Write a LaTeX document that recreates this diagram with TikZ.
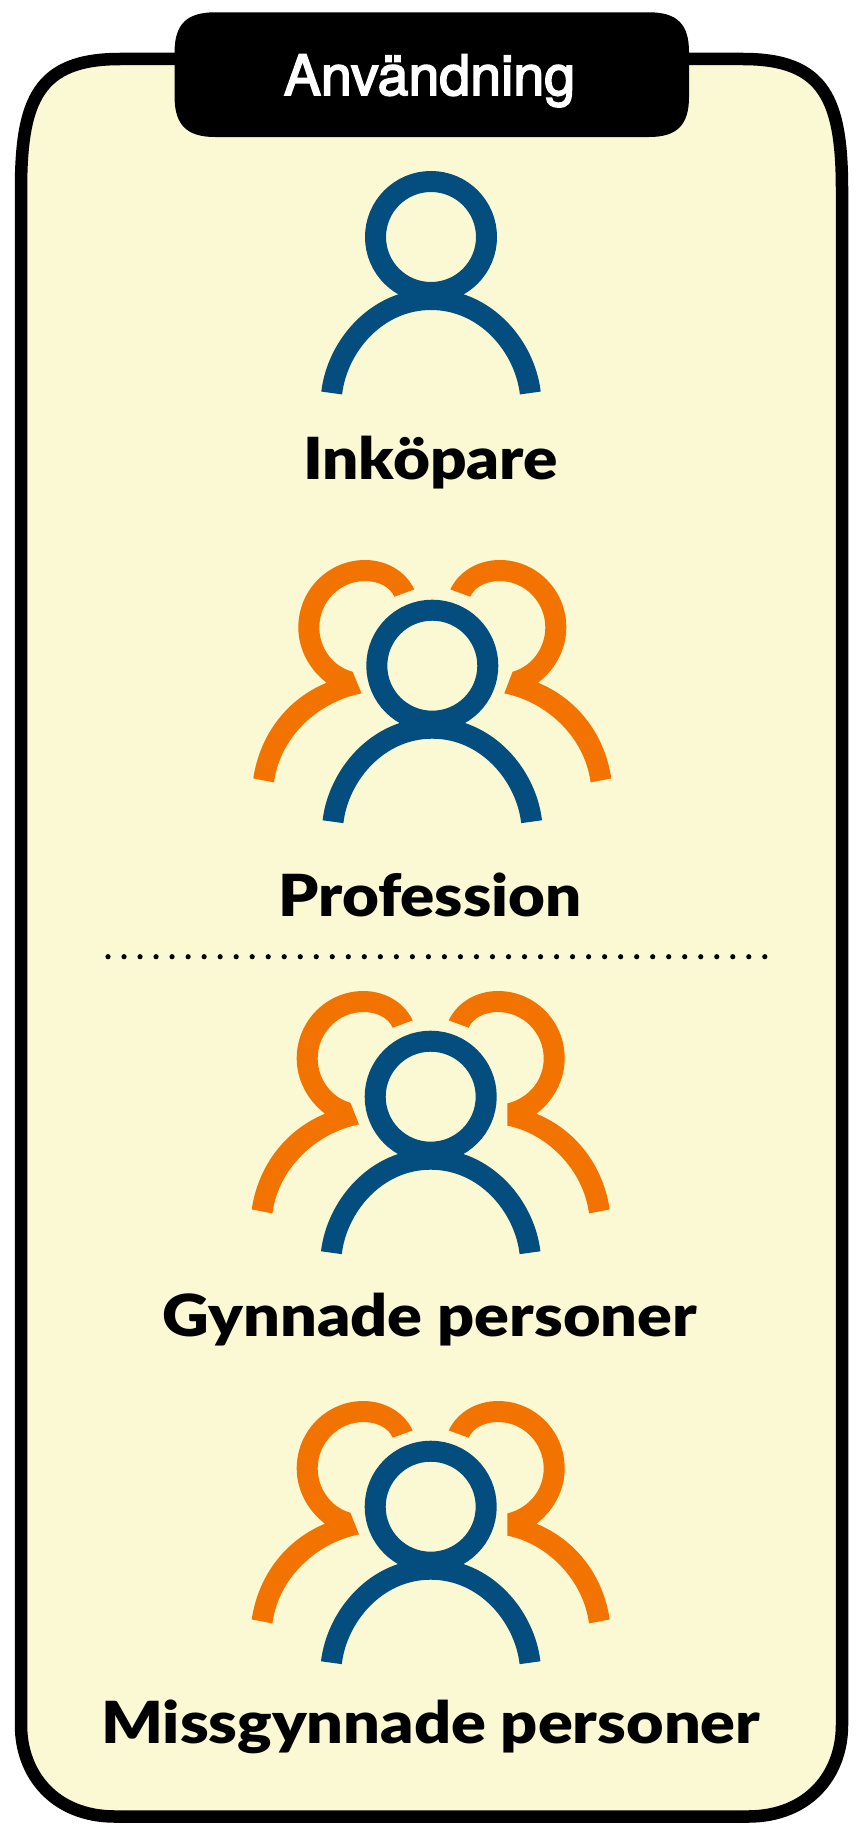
\documentclass[tikz,border=0pt]{standalone}
\usepackage{fontspec}
\newfontfamily\lblfont{Lato Black}
\newfontfamily\ttlfont[FakeBold=3]{TeX Gyre Heros}
\definecolor{paper}{HTML}{FAF9D3}
\definecolor{personblue}{HTML}{034E7E}
\definecolor{personorange}{HTML}{F37300}
\tikzset{
  frameline/.style={draw=black,line width=12.5pt,fill=paper},
  tabshape/.style={fill=black},
  lbl/.style={anchor=base,inner sep=0pt,text=black,font=\lblfont\fontsize{58}{58}\selectfont,xscale=#1,transform shape},
  ttl/.style={anchor=base,inner sep=0pt,text=white,font=\ttlfont\fontsize{55.5}{55.5}\selectfont},
  dotline/.style={line width=5.2pt,line cap=round,dash pattern=on 0pt off 16.02pt,draw=black},
  bluestroke/.style={draw=personblue,line width=21pt},
}
\newcommand{\OrangeSide}[2]{%
  \fill[personorange] (-18,-76.3) .. controls (-27.3,-95.7) and (-47.3,-105.7) .. (-67.3,-105.7)
    .. controls (-104,-105.7) and (-134,-75.7) .. (-134,-38.3)
    .. controls (-134,-15.7) and (-122.3,4.3) .. (-105.7,17)
    .. controls (-144,32.7) and (-172.3,67.7) .. (-179,112.7)
    -- (-158.3,116.7)
    .. controls (-152.3,71) and (-114,36) .. (#2)
    -- (#1)
    .. controls (-99,1) and (-113,-17.3) .. (-113,-38.3)
    .. controls (-113,-64) and (-92.3,-84.7) .. (-67.3,-84.7)
    .. controls (-54,-84.7) and (-42.3,-79) .. (-38,-69) -- cycle;}
\newcommand{\BlueMan}{%
  \draw[bluestroke] (0,0) circle[radius=55.5];
  \draw[bluestroke] (-99.3,156) .. controls (-94,110) and (-55,62.5) .. (0,62.5)
     .. controls (55,62.5) and (94,110) .. (99.3,156);}
\begin{document}
\begin{tikzpicture}[x=1pt,y=-1pt]
\useasboundingbox (0,0) rectangle (866,1828);
\fill[white] (0,0) rectangle (866,1828);
\path[frameline] (21,190) .. controls (21,100) and (38,59) .. (120,59)
  -- (743,59) .. controls (825,59) and (842,100) .. (842,190)
  -- (842,1725) .. controls (842,1775) and (808,1816.5) .. (748,1816.5)
  -- (115,1816.5) .. controls (55,1816.5) and (21,1775) .. (21,1725) -- cycle;
\fill[tabshape] (174.6,52) .. controls (174.6,24) and (187,12.3) .. (215,12.3)
  -- (649,12.3) .. controls (677,12.3) and (689,24) .. (689,52)
  -- (689,97) .. controls (689,125) and (677,137) .. (649,137)
  -- (215,137) .. controls (187,137) and (174.6,125) .. (174.6,97) -- cycle;
\node[ttl] (title) at (429.5,95) {Användning};
\begin{scope}[shift={(431,237)}]\BlueMan\end{scope}
\node[lbl=1.10] (inkopare) at (430.5,479) {Inköpare};
\begin{scope}[shift={(432.3,665.7)}]
  \OrangeSide{-79.7,6}{-70.7,27.7}
  \begin{scope}[xscale=-1]\OrangeSide{-80.3,6}{-72,27.7}\end{scope}
  \BlueMan
\end{scope}
\node[lbl=1.095] (profession) at (430,916.7) {Profession};
\coordinate (dotsL) at (108,956.7);
\coordinate (dotsR) at (766,956.7);
\draw[dotline] (dotsL) -- (dotsR);
\begin{scope}[shift={(430.7,1096.7)}]
  \OrangeSide{-80.3,6}{-71.7,27.7}
  \begin{scope}[xscale=-1]\OrangeSide{-76.7,6.7}{-76.7,29}\end{scope}
  \BlueMan
\end{scope}
\node[lbl=1.115] (gynnade) at (430,1336) {Gynnade personer};
\begin{scope}[shift={(430.7,1506.7)}]
  \OrangeSide{-80.3,6}{-71.7,27.7}
  \begin{scope}[xscale=-1]\OrangeSide{-76.7,6.7}{-76.7,29}\end{scope}
  \BlueMan
\end{scope}
\node[lbl=1.115] (missgynnade) at (430.7,1743) {Missgynnade personer};
\end{tikzpicture}
\end{document}
